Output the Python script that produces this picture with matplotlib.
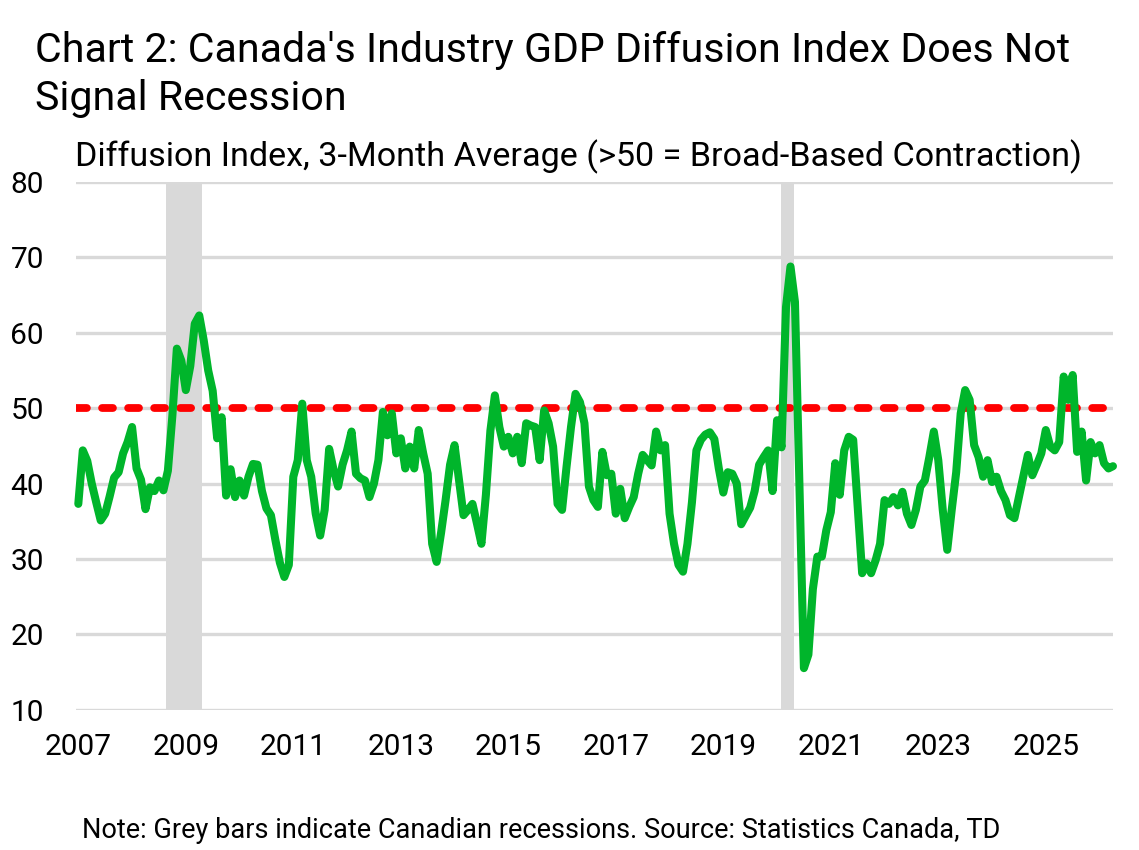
import matplotlib
matplotlib.use("Agg")
import matplotlib.pyplot as plt
import numpy as np

# ---------------- data ----------------
start_year = 2007  # first observation: January 2007, monthly
diffusion_index = [
    37.3, 44.4, 43.0, 40.0, 37.5, 35.1, 36.0, 38.3, 40.8, 41.5, 44.0, 45.5,   # 2007
    47.5, 42.0, 40.5, 36.6, 39.5, 39.0, 40.4, 39.1, 41.7, 49.0, 57.9, 56.3,   # 2008
    52.4, 55.6, 61.2, 62.3, 59.0, 55.0, 52.3, 46.0, 48.8, 38.4, 41.9, 38.2,   # 2009
    40.4, 38.4, 40.9, 42.6, 42.5, 39.0, 36.7, 35.8, 32.5, 29.5, 27.6, 29.2,   # 2010
    40.9, 43.1, 50.6, 43.1, 40.9, 36.0, 33.1, 36.5, 44.6, 41.8, 39.6, 42.5,   # 2011
    44.4, 46.9, 41.3, 40.7, 40.4, 38.2, 40.0, 43.1, 49.5, 46.4, 49.3, 44.0,   # 2012
    46.0, 42.0, 44.9, 42.0, 47.1, 44.0, 41.3, 32.0, 29.6, 33.5, 37.8, 42.5,   # 2013
    45.1, 40.4, 35.8, 36.5, 37.3, 34.7, 32.0, 38.5, 47.0, 51.7, 47.5, 44.9,   # 2014
    46.2, 44.0, 46.2, 42.7, 48.0, 47.7, 47.5, 43.1, 49.7, 48.0, 44.9, 37.3,   # 2015
    36.5, 42.2, 47.5, 51.9, 50.8, 48.0, 39.6, 37.8, 36.9, 44.2, 41.1, 41.3,   # 2016
    36.0, 39.3, 35.4, 36.9, 38.2, 41.3, 43.8, 43.1, 42.4, 46.9, 44.4, 45.1,   # 2017
    36.0, 32.0, 29.2, 28.3, 32.0, 37.5, 44.4, 45.8, 46.5, 46.8, 45.9, 42.0,   # 2018
    38.8, 41.5, 41.3, 40.0, 34.6, 35.7, 36.8, 39.0, 42.5, 43.5, 44.4, 39.0,   # 2019
    48.4, 44.8, 63.4, 68.8, 64.1, 40.0, 15.5, 17.3, 26.0, 30.3, 30.3, 33.8,   # 2020
    36.2, 42.7, 38.5, 44.4, 46.2, 45.8, 37.0, 28.1, 29.4, 28.1, 29.8, 32.0,   # 2021
    37.8, 37.3, 38.2, 37.1, 38.9, 36.0, 34.5, 36.5, 39.6, 40.4, 43.5, 46.9,   # 2022
    43.1, 36.5, 31.2, 36.5, 41.5, 49.3, 52.4, 51.1, 45.1, 43.5, 40.9, 43.1,   # 2023
    40.2, 40.9, 39.0, 37.8, 35.8, 35.4, 38.2, 41.0, 43.8, 41.1, 42.5, 44.0,   # 2024
    47.1, 44.9, 44.4, 45.5, 54.2, 51.1, 54.4, 44.2, 46.9, 40.4, 45.5, 44.0,   # 2025
    45.1, 42.7, 42.0, 42.3,                                                   # 2026
]
recession_start = [2008.63, 2020.07]
recession_end = [2009.31, 2020.31]
threshold = 50
y_ticks = [10, 20, 30, 40, 50, 60, 70, 80]
x_tick_years = [2007, 2009, 2011, 2013, 2015, 2017, 2019, 2021, 2023, 2025]

title_lines = ["Chart 2: Canada's Industry GDP Diffusion Index Does Not",
               "Signal Recession"]
subtitle = "Diffusion Index, 3-Month Average (>50 = Broad-Based Contraction)"
footnote = "Note: Grey bars indicate Canadian recessions. Source: Statistics Canada, TD"

# ---------------- style ----------------
FONT = ["Roboto", "DejaVu Sans"]
plt.rcParams["font.family"] = FONT
W, H = 1139, 850
GREEN = "#00B52B"
RED = "#FF0000"
GREY = "#D9D9D9"

fig = plt.figure(figsize=(W / 100, H / 100), dpi=100)
ax_left, ax_right, ax_top, ax_bottom = 76, 1112.7, 182.1, 709.6
ax = fig.add_axes([ax_left / W, 1 - ax_bottom / H,
                   (ax_right - ax_left) / W, (ax_bottom - ax_top) / H])

x = start_year + np.arange(len(diffusion_index)) / 12.0

for s, e in zip(recession_start, recession_end):
    ax.axvspan(s, e, color=GREY, lw=0, zorder=0)

ax.set_ylim(10, 80)
ax.set_yticks(y_ticks)
ax.set_xlim(2006.957, 2026.245)
ax.set_xticks(x_tick_years)
ax.set_xticklabels([str(v) for v in x_tick_years])
ax.yaxis.grid(True, color=GREY, lw=2.4, zorder=1)
ax.xaxis.grid(False)
ax.set_axisbelow(True)
for sp in ax.spines.values():
    sp.set_visible(False)
ax.tick_params(axis="both", length=0, labelsize=21.5, colors="black")
ax.tick_params(axis="y", pad=23)
ax.tick_params(axis="x", pad=17)

ax.axhline(threshold, color=RED, lw=5.6, dashes=(1.4, 1.95),
           dash_capstyle="round", zorder=2)
ax.plot(x, diffusion_index, color=GREEN, lw=5.8, solid_joinstyle="round",
        solid_capstyle="round", clip_on=False, zorder=3)

# ---------------- texts (fit to widths) ----------------
renderer = fig.canvas.get_renderer()


def fit_text(xpx, ypx, s, size, target_w=None, **kw):
    t = fig.text(xpx / W, 1 - ypx / H, s, fontsize=size, ha="left",
                 va="baseline", **kw)
    if target_w:
        w = t.get_window_extent(renderer).width
        t.set_fontsize(size * target_w / w)
    return t


t1 = fit_text(35, 62, title_lines[0], 27, target_w=1035)
fig.text(35 / W, 1 - 110 / H, title_lines[1], fontsize=t1.get_fontsize(),
         ha="left", va="baseline")
fit_text(75, 166, subtitle, 21, target_w=1005)
fit_text(82, 838, footnote, 16, target_w=918)

fig.savefig("out.png", dpi=100)
